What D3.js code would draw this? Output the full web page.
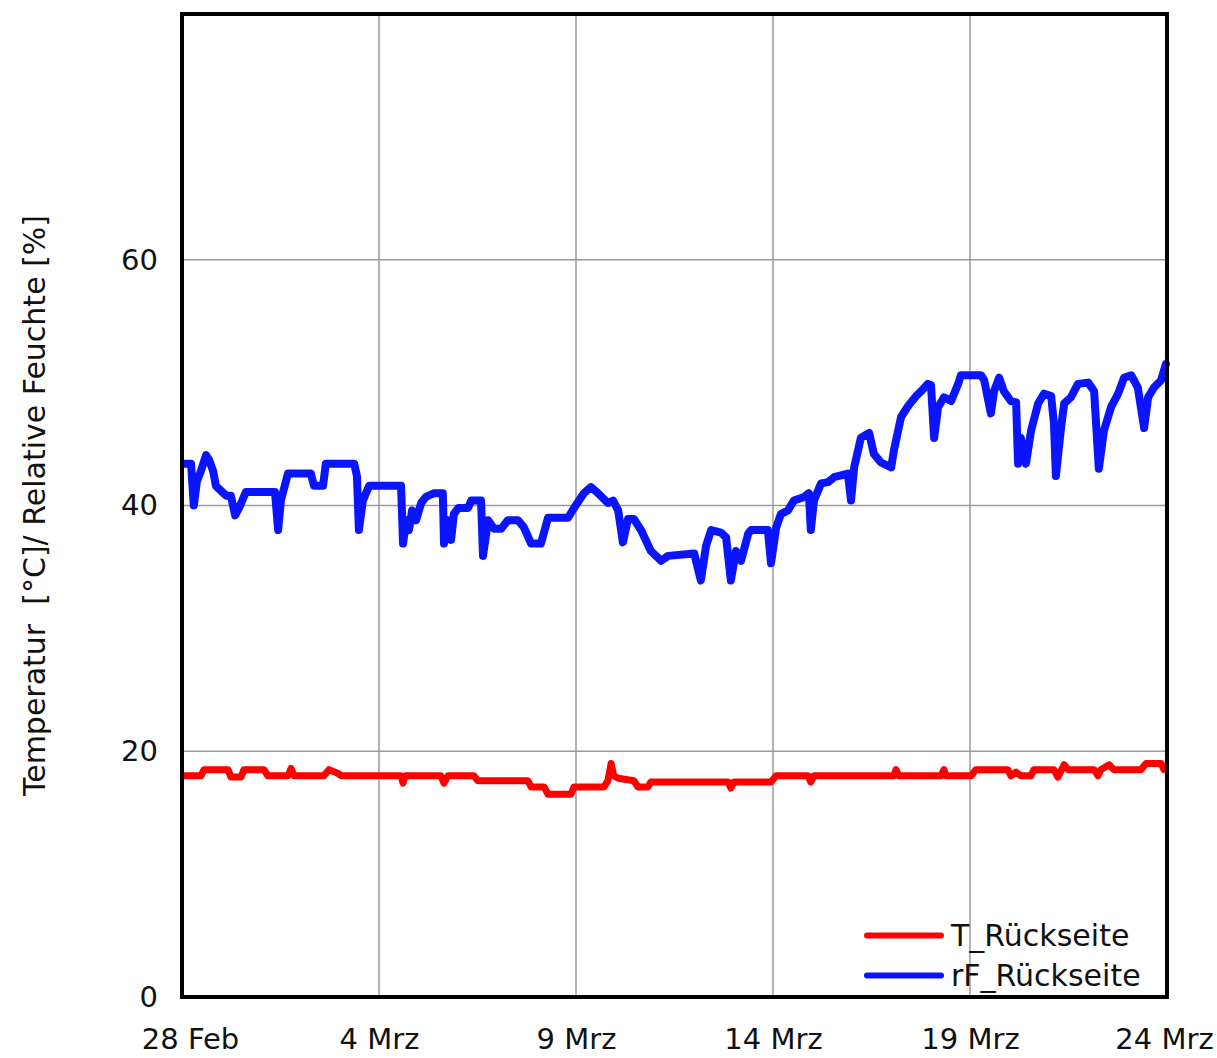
<!DOCTYPE html>
<html>
<head>
<meta charset="utf-8">
<script src="https://cdn.jsdelivr.net/npm/d3@7"></script>
<style>
  body { margin: 0; background: #fff; }
  text { font-family: "DejaVu Sans", sans-serif; fill: #111; }
</style>
</head>
<body>
<div id="chart"></div>
<script>
// days after 28 Feb 2020, value
var rfDays = [0.05,0.23,0.30,0.38,0.48,0.61,0.69,0.79,0.86,0.99,1.12,1.24,1.35,1.45,1.62,1.88,2.36,2.44,2.51,2.69,3.27,3.35,3.58,3.65,4.37,4.44,4.49,4.59,4.75,5.56,5.61,5.69,5.76,5.84,5.94,6.07,6.19,6.40,6.62,6.65,6.75,6.83,6.90,7.01,7.26,7.34,7.59,7.64,7.77,7.92,8.10,8.27,8.53,8.68,8.86,9.11,9.29,9.80,9.95,10.20,10.38,10.56,10.81,10.94,11.07,11.19,11.32,11.47,11.65,11.90,12.16,12.34,13.00,13.17,13.30,13.43,13.68,13.81,13.93,14.06,14.19,14.37,14.44,14.87,14.95,15.08,15.20,15.38,15.53,15.79,15.91,15.96,16.04,16.22,16.40,16.55,16.90,16.98,17.06,17.23,17.44,17.56,17.74,18.00,18.07,18.25,18.43,18.63,18.76,18.93,19.01,19.09,19.19,19.34,19.52,19.70,19.77,20.28,20.36,20.53,20.61,20.74,20.86,21.04,21.17,21.22,21.29,21.42,21.55,21.73,21.88,22.06,22.13,22.18,22.31,22.39,22.56,22.74,23.00,23.15,23.27,23.40,23.58,23.76,23.91,24.09,24.26,24.42,24.52,24.67,24.85,24.97];
var rfValues = [43.4,43.4,40.0,42.0,42.8,44.1,43.7,42.8,41.6,41.2,40.8,40.8,39.2,39.8,41.1,41.1,41.1,38.0,40.4,42.6,42.6,41.6,41.6,43.4,43.4,42.4,38.0,40.4,41.6,41.6,36.9,38.8,38.0,39.6,38.8,40.2,40.7,41.0,41.0,36.9,38.8,37.2,39.3,39.8,39.8,40.4,40.4,35.9,38.8,38.1,38.1,38.8,38.8,38.2,36.9,36.9,39.0,39.0,39.8,41.0,41.5,41.0,40.2,40.4,39.6,37.0,38.9,38.9,38.0,36.3,35.5,35.9,36.1,33.9,36.7,38.0,37.8,37.4,33.9,36.3,35.5,37.7,38.0,38.0,35.3,38.2,39.3,39.6,40.4,40.7,41.0,38.0,40.4,41.8,41.9,42.3,42.6,40.4,43.1,45.5,45.9,44.2,43.5,43.1,44.5,47.2,48.1,48.9,49.3,49.9,49.8,45.5,48.0,48.8,48.5,49.9,50.6,50.6,50.2,47.5,49.3,50.4,49.3,48.5,48.4,43.4,45.5,43.4,46.1,48.3,49.1,48.9,46.7,42.4,46.3,48.3,48.8,49.9,50.0,49.3,43.0,46.1,48.0,49.1,50.4,50.6,49.6,46.3,48.8,49.6,50.2,51.5];

var tDays = [0.05,0.48,0.56,1.17,1.24,1.50,1.57,2.08,2.18,2.69,2.77,2.84,3.60,3.73,3.96,4.04,5.56,5.61,5.66,6.57,6.65,6.75,7.41,7.51,8.78,8.86,9.19,9.29,9.87,9.95,10.71,10.81,10.89,10.96,11.07,11.47,11.57,11.83,11.90,13.86,13.93,14.01,14.95,15.08,15.89,15.96,16.04,18.07,18.12,18.20,19.26,19.34,19.39,20.03,20.15,20.96,21.04,21.17,21.29,21.55,21.62,22.13,22.23,22.39,22.49,23.15,23.25,23.32,23.53,23.65,24.34,24.47,24.85,24.92];
var tValues = [18.0,18.0,18.5,18.5,17.9,17.9,18.5,18.5,18.0,18.0,18.6,18.0,18.0,18.5,18.2,18.0,18.0,17.4,18.0,18.0,17.4,18.0,18.0,17.6,17.6,17.1,17.1,16.5,16.5,17.1,17.1,17.6,19.0,18.0,17.8,17.6,17.1,17.1,17.5,17.5,17.0,17.5,17.5,18.0,18.0,17.5,18.0,18.0,18.5,18.0,18.0,18.5,18.0,18.0,18.5,18.5,18.0,18.3,18.0,18.0,18.5,18.5,17.9,18.9,18.5,18.5,18.0,18.5,18.9,18.5,18.5,19.0,19.0,18.5];

var xTickDays = [0, 5, 10, 15, 20, 25];
var xTickLabels = ["28 Feb", "4 Mrz", "9 Mrz", "14 Mrz", "19 Mrz", "24 Mrz"];
var yTicks = [0, 20, 40, 60];
var seriesNames = ["T_Rückseite", "rF_Rückseite"];
var seriesColors = ["#ff0000", "#0a14ff"];

var start = new Date(2020, 1, 28);
function toDate(d) { return new Date(start.getTime() + d * 86400000); }

var svg_width = 1217, svg_height = 1058;
var svg = d3.select("#chart").append("svg")
    .attr("width", svg_width)
    .attr("height", svg_height);

var margin = {top: 14, right: 50, bottom: 61, left: 182},
    width = svg_width - margin.left - margin.right,
    height = svg_height - margin.top - margin.bottom,
    g = svg.append("g").attr("transform", "translate(" + margin.left + "," + margin.top + ")");

var x = d3.scaleTime()
    .domain([start, toDate(25)])
    .range([0, width]);

var y = d3.scaleLinear()
    .domain([0, 80])
    .range([height, 0]);

// grid
g.append("g")
    .selectAll("line")
    .data(xTickDays.slice(1, -1))
    .enter().append("line")
    .attr("x1", function(d) { return x(toDate(d)); })
    .attr("x2", function(d) { return x(toDate(d)); })
    .attr("y1", 0).attr("y2", height)
    .attr("stroke", "#9a9a9a").attr("stroke-width", 1.5);

g.append("g")
    .selectAll("line")
    .data(yTicks.slice(1))
    .enter().append("line")
    .attr("x1", 0).attr("x2", width)
    .attr("y1", function(d) { return y(d); })
    .attr("y2", function(d) { return y(d); })
    .attr("stroke", "#9a9a9a").attr("stroke-width", 1.5);

// axes (labels only)
var xAxis = g.append("g")
    .attr("transform", "translate(0," + height + ")")
    .call(d3.axisBottom(x)
        .tickValues(xTickDays.map(toDate))
        .tickFormat(function(d, i) { return xTickLabels[i]; })
        .tickSize(0).tickPadding(31));
xAxis.select(".domain").remove();
xAxis.selectAll("text")
    .attr("font-size", 29)
    .attr("font-family", "'DejaVu Sans', sans-serif")
    .attr("dx", function(d, i) { return i === 0 ? 8 : (i === xTickDays.length - 1 ? -3 : 0); });

var yAxis = g.append("g")
    .call(d3.axisLeft(y).tickValues(yTicks).tickSize(0).tickPadding(24));
yAxis.select(".domain").remove();
yAxis.selectAll("text").attr("font-size", 29).attr("font-family", "'DejaVu Sans', sans-serif");

// lines
var line = d3.line()
    .x(function(d) { return x(toDate(d[0])); })
    .y(function(d) { return y(d[1]); });

var series = [
    d3.zip(tDays, tValues),
    d3.zip(rfDays, rfValues)
];

g.append("path")
    .datum(series[0])
    .attr("fill", "none")
    .attr("stroke", seriesColors[0])
    .attr("stroke-width", 7)
    .attr("stroke-linejoin", "round")
    .attr("stroke-linecap", "round")
    .attr("d", line);

g.append("path")
    .datum(series[1])
    .attr("fill", "none")
    .attr("stroke", seriesColors[1])
    .attr("stroke-width", 8)
    .attr("stroke-linejoin", "round")
    .attr("stroke-linecap", "round")
    .attr("d", line);

// frame
g.append("rect")
    .attr("x", 0).attr("y", 0)
    .attr("width", width).attr("height", height)
    .attr("fill", "none")
    .attr("stroke", "#000")
    .attr("stroke-width", 4);

// y label
svg.append("text")
    .attr("transform", "translate(45," + (margin.top + y(40)) + ") rotate(-90)")
    .attr("text-anchor", "middle")
    .attr("font-size", 30)
    .text("Temperatur \u00a0[°C]/ Relative Feuchte [%]");

// legend
var legend = g.selectAll(".legend")
    .data(seriesNames)
    .enter().append("g")
    .attr("class", "legend")
    .attr("transform", function(d, i) { return "translate(" + (width - 300) + "," + (y(5) + i * 40) + ")"; });

legend.append("line")
    .attr("x1", 0).attr("x2", 74)
    .attr("stroke", function(d, i) { return seriesColors[i]; })
    .attr("stroke-width", 6)
    .attr("stroke-linecap", "round");

legend.append("text")
    .attr("x", 84)
    .attr("dy", "0.35em")
    .attr("font-size", 30)
    .text(function(d) { return d; });
</script>
</body>
</html>
